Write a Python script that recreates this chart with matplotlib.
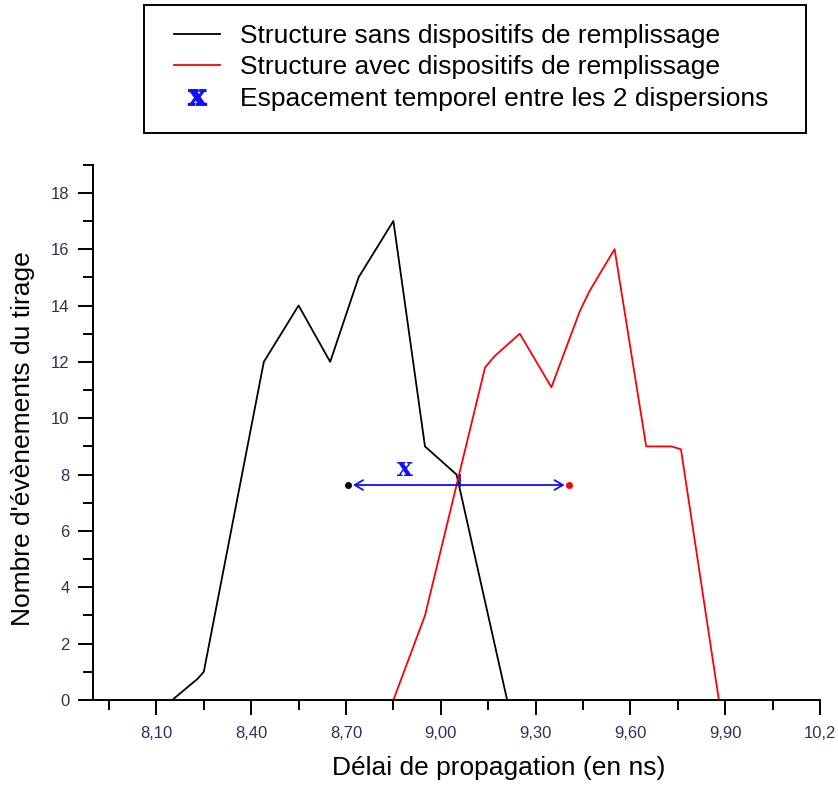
import numpy as np
import matplotlib.pyplot as plt
from matplotlib.lines import Line2D
from matplotlib.patches import Rectangle
from matplotlib.ticker import MultipleLocator, FuncFormatter

plt.rcParams['font.family'] = ['Liberation Sans', 'DejaVu Sans']
plt.rcParams['mathtext.fontset'] = 'dejavuserif'

# courbe sans dispositifs (noire)
sans_x = [8.15, 8.23, 8.25, 8.44, 8.55, 8.65, 8.74, 8.85, 8.95, 9.05, 9.21]
sans_y = [0, 0.75, 1, 12, 14, 12, 15, 17, 9, 8, 0]

# courbe avec dispositifs (rouge)
avec_x = [8.85, 8.95, 9.14, 9.17, 9.21, 9.25, 9.35, 9.44, 9.47, 9.55, 9.65, 9.73, 9.76, 9.88]
avec_y = [0, 3, 11.8, 12.2, 12.6, 13, 11.1, 13.8, 14.5, 16, 9, 9, 8.9, 0]

# espacement temporel
ecart_x = [8.707, 9.407]
ecart_y = 7.63

labels = ["Structure sans dispositifs de remplissage",
          "Structure avec dispositifs de remplissage",
          "Espacement temporel entre les 2 dispersions"]

W, H = 838, 791
fig = plt.figure(figsize=(W / 100, H / 100), dpi=100)
ax = fig.add_axes([0.1112, 0.1150, 0.8673, 0.6769])

ax.plot(sans_x, sans_y, color='black', lw=1.3)
ax.plot(avec_x, avec_y, color='#ff0000', lw=1.3)

ax.plot(ecart_x[0], ecart_y, 'o', color='black', ms=4)
ax.plot(ecart_x[1], ecart_y, 'o', color='#ff0000', ms=4)
ax.annotate('', xy=(ecart_x[0] + 0.015, ecart_y), xytext=(ecart_x[1] - 0.015, ecart_y),
            arrowprops=dict(arrowstyle='<->,head_length=0.6,head_width=0.35',
                            color='#1010ff', lw=1.3, shrinkA=0, shrinkB=0))
ax.plot([9.06, 9.06], [7.6, 8.0], color='#1010ff', lw=1.3)
ax.text(8.886, 8.2, 'x', color='#1010ff', fontsize=19, fontweight='bold',
        family='DejaVu Serif', ha='center', va='center')

ax.set_xlim(7.9, 10.2)
ax.set_ylim(0, 19)
ax.spines['top'].set_visible(False)
ax.spines['right'].set_visible(False)
for s in ['left', 'bottom']:
    ax.spines[s].set_linewidth(1.4)

ax.set_xticks(np.arange(8.1, 10.21, 0.3))
ax.xaxis.set_minor_locator(MultipleLocator(0.15))
ax.xaxis.set_major_formatter(FuncFormatter(lambda v, p: ('%.2f' % v).replace('.', ',')[:4]))
ax.yaxis.set_minor_locator(MultipleLocator(1))
ax.set_yticks(np.arange(0, 19, 2))
ax.tick_params(which='major', length=11, width=1.4, labelsize=12, labelcolor='#303060')
ax.tick_params(which='minor', length=7, width=1.4)
ax.tick_params(axis='x', which='major', pad=8)
ax.tick_params(axis='y', which='major', pad=6)

ax.set_xlabel("Délai de propagation (en ns)", fontsize=19)
ax.xaxis.label.set_va('center')
ax.xaxis.set_label_coords(0.558, -0.127)
ax.set_ylabel("Nombre d'évènements du tirage", fontsize=19)
ax.yaxis.label.set_va('center')
ax.yaxis.set_label_coords(-0.097, 0.489)

handles = [Line2D([], [], color='black', lw=1.3),
           Line2D([], [], color='#ff0000', lw=1.3),
           Line2D([], [], ls='none', marker=r'$\mathbf{x}$', color='#1010ff', ms=13)]
leg = fig.legend(handles, labels, loc='upper left', bbox_to_anchor=(174 / W, 1 - 24 / H),
                 fontsize=19, frameon=False, borderpad=0, borderaxespad=0,
                 handlelength=1.75, handletextpad=0.75, labelspacing=0.28)

# cadre de la légende
fig.patches.append(Rectangle((144 / W, 1 - 133 / H), (806 - 144) / W, 128 / H,
                             transform=fig.transFigure, fill=False,
                             edgecolor='black', lw=1.4))

fig.savefig('out.png', dpi=100)
